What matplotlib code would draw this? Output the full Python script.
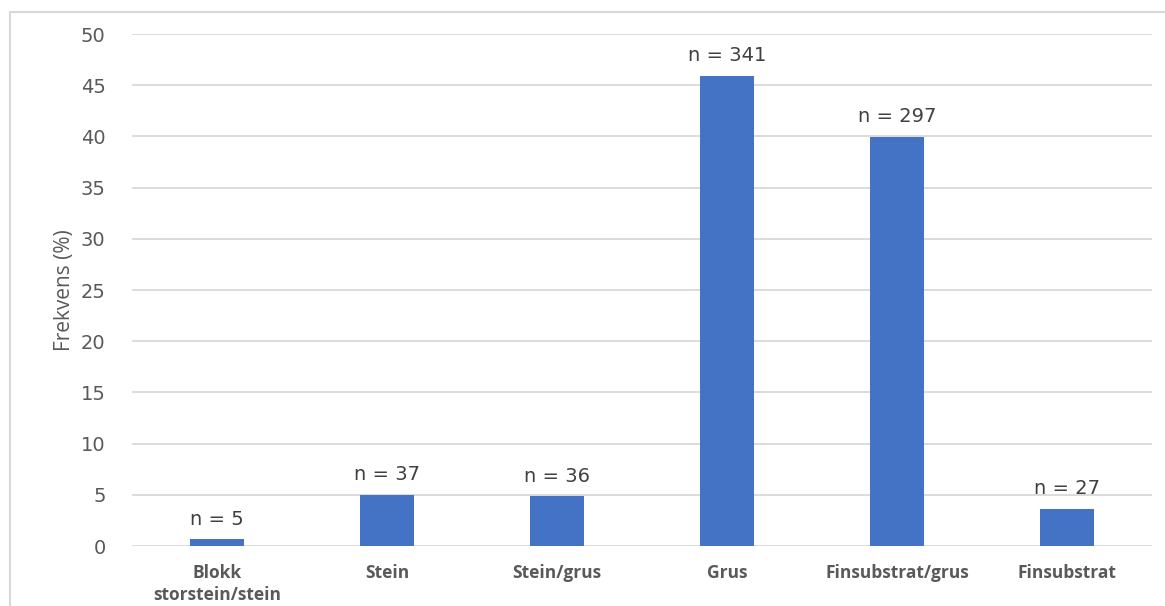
import matplotlib
matplotlib.use("Agg")
import matplotlib.pyplot as plt
from matplotlib.patches import Rectangle

categories = ["Blokk\nstorstein/stein", "Stein", "Stein/grus", "Grus", "Finsubstrat/grus", "Finsubstrat"]
counts = [5, 37, 36, 341, 297, 27]
percent = [0.67, 4.98, 4.85, 45.9, 39.97, 3.63]
yticks = [0, 5, 10, 15, 20, 25, 30, 35, 40, 45, 50]

plt.rcParams['font.family'] = ['Open Sans', 'DejaVu Sans']

fig = plt.figure(figsize=(11.65, 6.06), dpi=100)
fig.patches.append(Rectangle((10/1165, -0.1), 1.2, (606-12)/606 + 0.1, transform=fig.transFigure,
                             fill=False, edgecolor='#d9d9d9', linewidth=1.5))
ax = fig.add_axes([132/1165, 60/606, (1152-132)/1165, (546-34)/606])

x = list(range(len(categories)))
ax.bar(x, percent, width=0.32, color='#4472c4', zorder=3)
for xi, p, n in zip(x, percent, counts):
    ax.annotate(f"n = {n}", (xi, p), xytext=(0, 10.5), textcoords='offset points',
                ha='center', va='baseline', fontsize=14, color='#404040',
                family='DejaVu Sans')

ax.set_xlim(-0.5, len(categories) - 0.5)
ax.set_ylim(0, 50)
ax.set_yticks(yticks)
ax.set_yticklabels([str(t) for t in yticks], family='DejaVu Sans')
ax.grid(axis='y', color='#d9d9d9', linewidth=1.3, zorder=0)
for s in ax.spines.values():
    s.set_visible(False)
ax.tick_params(axis='both', length=0)
ax.tick_params(axis='y', labelsize=14, labelcolor='#595959', pad=19)
ax.set_xticks(x)
ax.set_xticklabels(categories, fontsize=12.5, fontweight='bold', color='#595959', linespacing=1.25)
ax.tick_params(axis='x', pad=13)
ax.set_ylabel("Frekvens (%)", fontsize=15, color='#595959', labelpad=4)

fig.savefig("out.png", dpi=100)
